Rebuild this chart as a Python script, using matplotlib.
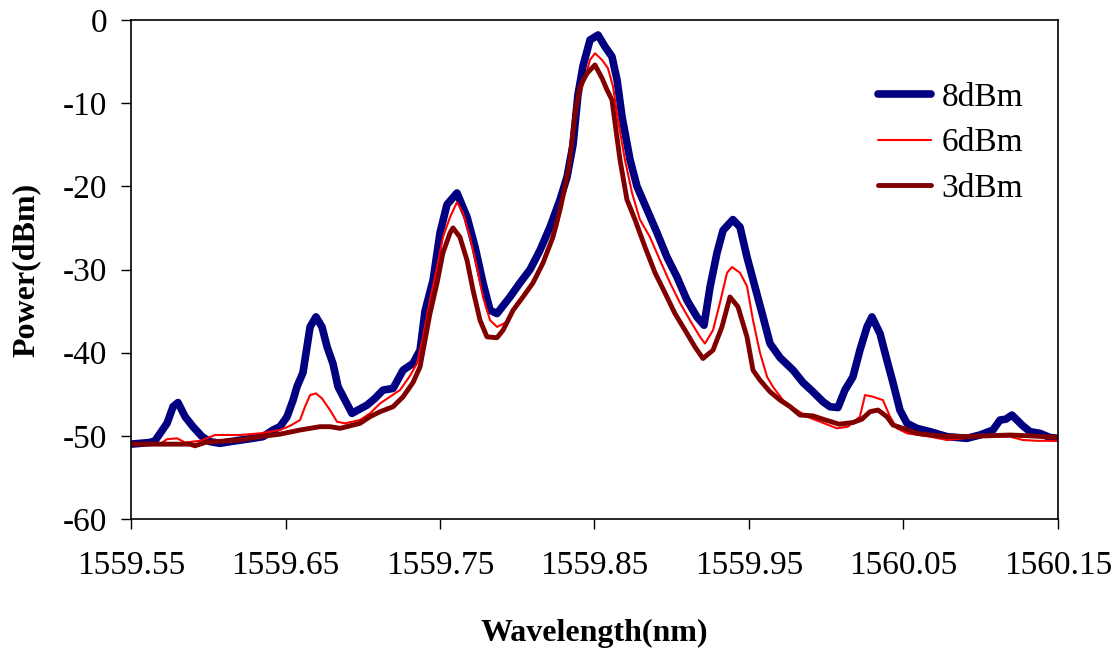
import matplotlib
matplotlib.use("Agg")
import matplotlib.pyplot as plt

plt.rcParams['font.family'] = ['Liberation Serif', 'DejaVu Serif']
plt.rcParams['axes.unicode_minus'] = False

# 8dBm trace
wl_8 = [1559.5500, 1559.5623, 1559.5655, 1559.5733, 1559.5772, 1559.5804, 1559.5850, 1559.5901,
        1559.5960, 1559.6011, 1559.6076, 1559.6141, 1559.6251, 1559.6354, 1559.6419, 1559.6464,
        1559.6510, 1559.6549, 1559.6574, 1559.6613, 1559.6639, 1559.6659, 1559.6697, 1559.6736,
        1559.6769, 1559.6807, 1559.6840, 1559.6885, 1559.6930, 1559.6969, 1559.7028, 1559.7079,
        1559.7131, 1559.7196, 1559.7261, 1559.7325, 1559.7371, 1559.7403, 1559.7455, 1559.7500,
        1559.7545, 1559.7610, 1559.7675, 1559.7727, 1559.7778, 1559.7824, 1559.7869, 1559.7953,
        1559.8018, 1559.8083, 1559.8147, 1559.8212, 1559.8277, 1559.8322, 1559.8361, 1559.8393,
        1559.8426, 1559.8471, 1559.8523, 1559.8568, 1559.8613, 1559.8646, 1559.8678, 1559.8730,
        1559.8775, 1559.8840, 1559.8905, 1559.8969, 1559.9034, 1559.9099, 1559.9163, 1559.9209,
        1559.9248, 1559.9293, 1559.9332, 1559.9396, 1559.9442, 1559.9487, 1559.9539, 1559.9591,
        1559.9636, 1559.9701, 1559.9785, 1559.9850, 1559.9914, 1559.9979, 1560.0024, 1560.0076,
        1560.0121, 1560.0173, 1560.0218, 1560.0264, 1560.0296, 1560.0348, 1560.0393, 1560.0432,
        1560.0477, 1560.0523, 1560.0587, 1560.0672, 1560.0782, 1560.0911, 1560.0995, 1560.1079,
        1560.1125, 1560.1163, 1560.1202, 1560.1267, 1560.1319, 1560.1383, 1560.1448, 1560.1500]
p_8 = [-51.0, -50.8, -50.6, -48.5, -46.5, -46.0, -47.7, -48.9,
       -50.1, -50.7, -50.9, -50.7, -50.4, -50.1, -49.3, -48.9,
       -47.7, -45.7, -44.1, -42.4, -39.3, -36.9, -35.7, -36.9,
       -39.3, -41.3, -44.1, -45.7, -47.3, -46.9, -46.3, -45.5,
       -44.5, -44.3, -42.1, -41.3, -39.7, -35.0, -31.3, -25.6,
       -22.2, -20.8, -23.7, -27.3, -31.6, -34.9, -35.3, -33.3,
       -31.6, -30.0, -27.7, -24.9, -21.6, -18.9, -15.0, -9.0,
       -5.5, -2.4, -1.8, -3.2, -4.4, -7.2, -11.6, -16.8,
       -20.0, -22.8, -25.6, -28.5, -30.9, -33.7, -35.7, -36.7,
       -32.1, -28.0, -25.3, -24.0, -24.9, -28.5, -32.1, -35.7,
       -38.9, -40.6, -42.1, -43.6, -44.7, -45.9, -46.5, -46.6,
       -44.5, -42.9, -39.7, -36.9, -35.7, -37.7, -40.9, -43.6,
       -46.9, -48.5, -49.1, -49.5, -50.1, -50.3, -49.9, -49.3,
       -48.1, -48.0, -47.5, -48.7, -49.5, -49.7, -50.2, -50.3]

# 6dBm trace
wl_6 = [1559.5500, 1559.5688, 1559.5733, 1559.5798, 1559.5850, 1559.5947, 1559.6044, 1559.6206,
        1559.6335, 1559.6464, 1559.6529, 1559.6594, 1559.6626, 1559.6659, 1559.6697, 1559.6736,
        1559.6788, 1559.6833, 1559.6885, 1559.6982, 1559.7047, 1559.7112, 1559.7176, 1559.7241,
        1559.7305, 1559.7351, 1559.7390, 1559.7435, 1559.7481, 1559.7519, 1559.7565, 1559.7610,
        1559.7649, 1559.7694, 1559.7739, 1559.7778, 1559.7824, 1559.7869, 1559.7934, 1559.7998,
        1559.8063, 1559.8128, 1559.8193, 1559.8257, 1559.8296, 1559.8341, 1559.8374, 1559.8406,
        1559.8439, 1559.8471, 1559.8503, 1559.8549, 1559.8587, 1559.8620, 1559.8652, 1559.8697,
        1559.8743, 1559.8794, 1559.8859, 1559.8924, 1559.8989, 1559.9053, 1559.9118, 1559.9183,
        1559.9215, 1559.9267, 1559.9312, 1559.9358, 1559.9390, 1559.9442, 1559.9487, 1559.9526,
        1559.9571, 1559.9617, 1559.9655, 1559.9720, 1559.9785, 1559.9875, 1559.9960, 1560.0069,
        1560.0140, 1560.0218, 1560.0251, 1560.0303, 1560.0367, 1560.0413, 1560.0458, 1560.0523,
        1560.0672, 1560.0782, 1560.0995, 1560.1189, 1560.1273, 1560.1364, 1560.1500]
p_6 = [-51.0, -51.0, -50.4, -50.3, -50.8, -50.6, -49.9, -49.9,
       -49.7, -49.3, -48.8, -48.1, -46.5, -45.1, -44.9, -45.5,
       -46.9, -48.3, -48.5, -48.1, -47.3, -46.1, -45.3, -44.5,
       -42.8, -41.3, -38.1, -33.7, -29.7, -26.1, -23.7, -21.9,
       -23.2, -26.1, -29.7, -33.3, -36.1, -36.9, -36.3, -34.0,
       -32.8, -30.9, -28.0, -24.9, -21.6, -17.5, -12.0, -8.8,
       -6.9, -4.8, -4.0, -4.8, -5.8, -8.0, -12.0, -16.8,
       -20.8, -24.0, -26.1, -28.9, -31.6, -34.0, -36.1, -38.1,
       -38.9, -37.3, -34.0, -30.4, -29.7, -30.4, -32.0, -36.1,
       -40.0, -42.9, -44.1, -45.7, -46.6, -47.7, -48.3, -49.1,
       -48.9, -47.7, -45.1, -45.3, -45.7, -47.7, -49.1, -49.7,
       -50.1, -50.5, -50.1, -50.1, -50.5, -50.6, -50.6]

# 3dBm trace
wl_3 = [1559.5500, 1559.5882, 1559.5914, 1559.5979, 1559.6044, 1559.6206, 1559.6335, 1559.6464,
        1559.6594, 1559.6723, 1559.6788, 1559.6853, 1559.6982, 1559.7047, 1559.7112, 1559.7196,
        1559.7261, 1559.7325, 1559.7371, 1559.7403, 1559.7435, 1559.7481, 1559.7519, 1559.7565,
        1559.7584, 1559.7629, 1559.7675, 1559.7714, 1559.7759, 1559.7804, 1559.7869, 1559.7908,
        1559.7973, 1559.8037, 1559.8102, 1559.8167, 1559.8231, 1559.8277, 1559.8322, 1559.8341,
        1559.8374, 1559.8406, 1559.8452, 1559.8503, 1559.8549, 1559.8581, 1559.8613, 1559.8633,
        1559.8665, 1559.8710, 1559.8762, 1559.8827, 1559.8892, 1559.8956, 1559.9021, 1559.9086,
        1559.9150, 1559.9202, 1559.9267, 1559.9325, 1559.9377, 1559.9429, 1559.9487, 1559.9526,
        1559.9571, 1559.9636, 1559.9701, 1559.9766, 1559.9830, 1559.9914, 1559.9979, 1560.0083,
        1560.0173, 1560.0231, 1560.0283, 1560.0335, 1560.0393, 1560.0432, 1560.0497, 1560.0587,
        1560.0717, 1560.0885, 1560.1189, 1560.1319, 1560.1500]
p_3 = [-51.0, -51.0, -51.2, -50.8, -50.7, -50.5, -50.1, -49.8,
       -49.3, -48.9, -48.9, -49.1, -48.5, -47.7, -47.1, -46.5,
       -45.3, -43.6, -41.7, -38.5, -35.3, -31.6, -28.0, -25.6,
       -25.0, -26.1, -28.9, -32.5, -36.1, -38.1, -38.2, -37.3,
       -34.9, -33.3, -31.6, -29.2, -26.1, -22.8, -18.9, -16.8,
       -11.2, -8.0, -6.4, -5.4, -7.0, -8.4, -9.6, -12.4,
       -16.8, -21.6, -24.0, -27.3, -30.4, -32.8, -35.3, -37.3,
       -39.3, -40.7, -39.7, -36.9, -33.3, -34.5, -38.1, -42.1,
       -43.3, -44.7, -45.7, -46.5, -47.5, -47.6, -48.0, -48.6,
       -48.4, -48.0, -47.1, -46.9, -47.7, -48.7, -49.1, -49.7,
       -50.0, -50.1, -49.9, -50.0, -50.2]

x_ticks = [1559.55, 1559.65, 1559.75, 1559.85, 1559.95, 1560.05, 1560.15]
y_ticks = [-60, -50, -40, -30, -20, -10, 0]

fig = plt.figure(figsize=(11.18, 6.52), dpi=100)
ax = fig.add_axes([0.1172, 0.204, 0.8291, 0.7653])

ax.plot(wl_8, p_8, color='#000080', linewidth=5.5, label='8dBm',
        solid_capstyle='round', solid_joinstyle='round')
ax.plot(wl_6, p_6, color='#ff0000', linewidth=1.5, label='6dBm',
        solid_capstyle='round', solid_joinstyle='round')
ax.plot(wl_3, p_3, color='#800000', linewidth=3.5, label='3dBm',
        solid_capstyle='round', solid_joinstyle='round')

ax.set_xlim(1559.55, 1560.15)
ax.set_ylim(-60, 0)
ax.set_xticks(x_ticks)
ax.set_xticklabels([f"{t:.2f}" for t in x_ticks])
ax.set_yticks(y_ticks)
ax.set_yticklabels([str(t) for t in y_ticks])
ax.tick_params(axis='both', direction='out', length=7, width=1, labelsize=24)
ax.tick_params(axis='x', pad=16)
ax.tick_params(axis='y', pad=10)
for s in ax.spines.values():
    s.set_linewidth(1.2)

ax.set_xlabel("Wavelength(nm)", fontsize=23, fontweight='bold')
ax.set_ylabel("Power(dBm)", fontsize=23, fontweight='bold')
ax.xaxis.set_label_coords(0.5, -0.2)
ax.yaxis.set_label_coords(-0.098, 0.5)

ax.legend(loc='center left', bbox_to_anchor=(878 / 1118, 1 - 143 / 652),
          bbox_transform=fig.transFigure, frameon=False, fontsize=24,
          handlelength=1.6, handletextpad=0.3, labelspacing=0.45,
          borderaxespad=0, borderpad=0)

fig.savefig("out.png", dpi=100)
